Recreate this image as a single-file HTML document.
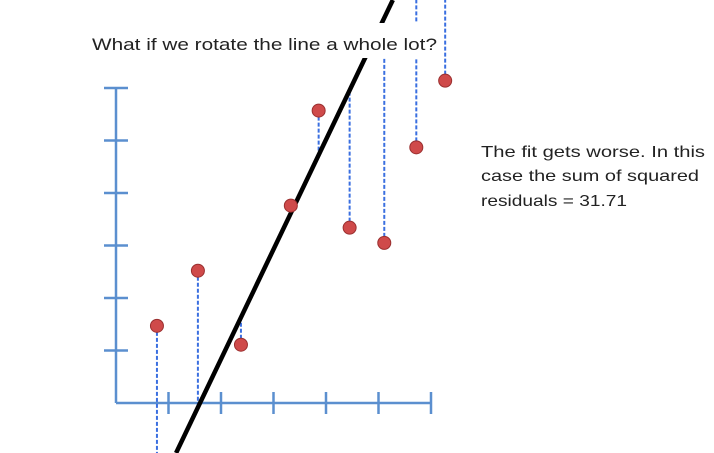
<!DOCTYPE html>
<html><head><meta charset="utf-8"><style>
html,body{margin:0;padding:0;background:#fff;}
svg{display:block;font-family:"Liberation Sans",sans-serif;}
</style></head><body>
<svg id="chart" width="714" height="453" viewBox="0 0 714 453" xmlns="http://www.w3.org/2000/svg">
<g id="axes"></g>
<g id="resid"></g>
<line id="fit" stroke="#000" stroke-width="4.5"/>
<rect x="88" y="23" width="352" height="35" fill="#fff"/>
<text x="92" y="50" font-size="17" fill="#222" textLength="345" lengthAdjust="spacingAndGlyphs">What if we rotate the line a whole lot?</text>
<g id="pts"></g>
<g font-size="16" fill="#222">
<text x="481" y="157" textLength="224" lengthAdjust="spacingAndGlyphs">The fit gets worse. In this</text>
<text x="481" y="181" textLength="218" lengthAdjust="spacingAndGlyphs">case the sum of squared</text>
<text x="481" y="206" textLength="146" lengthAdjust="spacingAndGlyphs">residuals = 31.71</text>
</g>
</svg>
<script>
const xVals = [0.78, 1.56, 2.38, 3.33, 3.86, 4.45, 5.11, 5.72, 6.27];
const yVals = [1.47, 2.52, 1.11, 3.76, 5.57, 3.34, 3.05, 4.87, 6.14];
const lineSlope = 2.09;
const lineXIntercept = 1.6;
const xTicks = [1, 2, 3, 4, 5, 6];
const yTicks = [1, 2, 3, 4, 5, 6];

const NS = "http://www.w3.org/2000/svg";
const ox = 116, oy = 403, unit = 52.5;
function sx(v){ return ox + v*unit; }
function sy(v){ return oy - v*unit; }
function lineY(x){ return lineSlope*(x - lineXIntercept); }
function mk(tag, attrs, parent){
  const e = document.createElementNS(NS, tag);
  for (const k in attrs) e.setAttribute(k, attrs[k]);
  parent.appendChild(e); return e;
}
const axes = document.getElementById('axes');
const ac = '#5b8fcf';
let a = mk('line', {x1:ox, y1:sy(6), x2:ox, y2:oy, stroke:ac, 'stroke-width':2.5}, axes);


a = mk('line', {x1:ox, y1:oy, x2:sx(6), y2:oy, stroke:ac, 'stroke-width':2.5}, axes);


yTicks.forEach(t => {
  const e = mk('line', {x1:104, y1:sy(t), x2:128, y2:sy(t), stroke:ac, 'stroke-width':2.5}, axes);
  
  
});
xTicks.forEach(t => {
  const e = mk('line', {x1:sx(t), y1:392, x2:sx(t), y2:414, stroke:ac, 'stroke-width':2.5}, axes);
  
  
});
// fit line
const fit = document.getElementById('fit');
const yTop = (oy - 0)/unit, yBot = (oy - 453)/unit;
fit.setAttribute('x1', sx(yBot/lineSlope + lineXIntercept));
fit.setAttribute('y1', 453);
fit.setAttribute('x2', sx(yTop/lineSlope + lineXIntercept));
fit.setAttribute('y2', 0);
// residuals
const rg = document.getElementById('resid');
xVals.forEach((x,i) => {
  let ly = sy(lineY(x));
  ly = Math.max(-5, Math.min(460, ly));
  const e = mk('line', {x1:sx(x), y1:sy(yVals[i]), x2:sx(x), y2:ly, stroke:'#3a6fe0', 'stroke-width':2, 'stroke-dasharray':'4 2'}, rg);
  
  
});
const pg = document.getElementById('pts');
xVals.forEach((x,i) => {
  const e = mk('circle', {cx:sx(x), cy:sy(yVals[i]), r:6.5, fill:'#cf4a4a', stroke:'#9a2f2f', 'stroke-width':1}, pg);
  
  
});
</script>
</body></html>
